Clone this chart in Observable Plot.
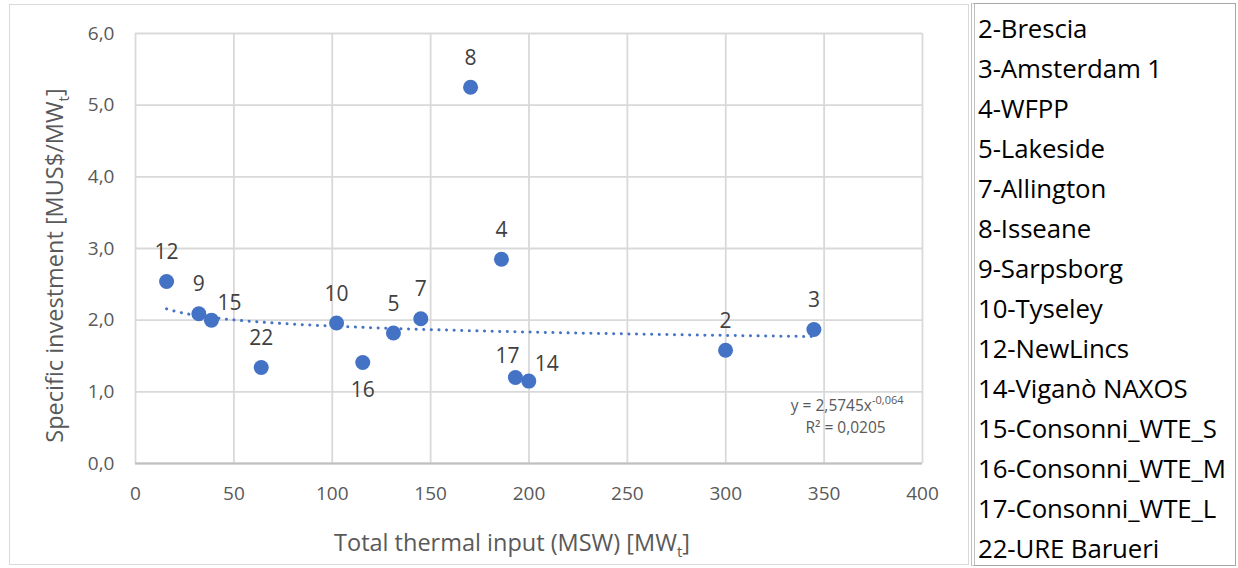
<!DOCTYPE html>
<html>
<head>
<meta charset="utf-8">
<script src="https://cdn.jsdelivr.net/npm/d3@7"></script>
<script src="https://cdn.jsdelivr.net/npm/@observablehq/plot@0.6"></script>
<style>
  html, body { margin: 0; padding: 0; background: #fff; }
  body { width: 1238px; height: 568px; overflow: hidden; position: relative; font-family: "Open Sans", sans-serif; }
  #frame { position: absolute; left: 9px; top: 4px; width: 960px; height: 561px; border: 1px solid #d9d9d9; box-sizing: border-box; }
  #chart { position: absolute; left: 0; top: 0; }
  #legend { position: absolute; left: 971px; top: 3px; width: 265px; height: 563px; border: 1px solid #a6a6a6; border-left: 4px double #bfbfbf; box-sizing: border-box; padding-top: 4px; padding-left: 3px; }
  .item { height: 40px; line-height: 40px; font-size: 25.8px; color: #000; white-space: nowrap; letter-spacing: -0.1px; }
</style>
</head>
<body>
<div id="frame"></div>
<div id="chart"></div>
<div id="legend"></div>
<script>
// ---- data ----
const ids = [2, 3, 4, 5, 7, 8, 9, 10, 12, 14, 15, 16, 17, 22];
const names = ["Brescia", "Amsterdam 1", "WFPP", "Lakeside", "Allington", "Isseane", "Sarpsborg", "Tyseley", "NewLincs", "Viganò NAXOS", "Consonni_WTE_S", "Consonni_WTE_M", "Consonni_WTE_L", "URE Barueri"];
const thermalInput = [299.9, 344.8, 186.0, 131.1, 145.0, 170.3, 32.2, 102.2, 15.8, 199.9, 38.6, 115.5, 193.1, 63.9];
const specificInvestment = [1.58, 1.87, 2.85, 1.82, 2.02, 5.25, 2.09, 1.96, 2.54, 1.15, 2.00, 1.41, 1.20, 1.34];
const labelPlacement = ["above", "above", "above", "above", "above", "above", "above", "above", "above", "right", "right", "below", "left", "above"];
const xTicks = [0, 50, 100, 150, 200, 250, 300, 350, 400];
const yTicks = [0, 1, 2, 3, 4, 5, 6];
const trendCoef = 2.5745;
const trendExp = -0.064;
const eqBase = "y = 2,5745x";
const eqSup = "-0,064";
const r2Text = "R² = 0,0205";
const xTitle = "Total thermal input (MSW) [MWt]";
const yTitle = "Specific investment [MUS$/MWt]";

// ---- build table ----
const data = ids.map((id, i) => ({
  id, name: names[i], x: thermalInput[i], y: specificInvestment[i], pos: labelPlacement[i]
}));
const xMin = d3.min(thermalInput), xMax = d3.max(thermalInput);
const trend = d3.range(xMin, xMax, 2).concat([xMax]).map(x => ({x, y: trendCoef * Math.pow(x, trendExp)}));

const blue = "#4472C4";
const grid = "#d9d9d9";
const offsets = {
  above: {dx: 0, dy: -29},
  below: {dx: 0, dy: 28},
  right: {dx: 18, dy: -17},
  left: {dx: -8, dy: -21}
};
const labelMarks = Object.entries(offsets).map(([k, o]) =>
  Plot.text(data.filter(d => d.pos === k), {
    x: "x", y: "y", text: d => String(d.id), dx: o.dx, dy: o.dy,
    fontSize: 21, fill: "#404040"
  })
);

const fmt = v => v.toFixed(1).replace(".", ",");

const chart = Plot.plot({
  width: 969,
  height: 568,
  marginLeft: 135,
  marginRight: 47,
  marginTop: 33,
  marginBottom: 105,
  style: { fontFamily: "'Open Sans', sans-serif", fontSize: "19px", color: "#595959", background: "transparent", overflow: "visible" },
  x: { domain: [0, 400] },
  y: { domain: [0, 6] },
  marks: [
    Plot.gridX(xTicks, { stroke: grid, strokeOpacity: 1, strokeWidth: 1.8 }),
    Plot.gridY(yTicks, { stroke: grid, strokeOpacity: 1, strokeWidth: 1.8 }),
    Plot.ruleY([0], { stroke: "#bfbfbf", strokeWidth: 2 }),
    Plot.axisX({ ticks: xTicks, tickSize: 0, tickPadding: 23, label: null, fill: "#595959", fontSize: 19 }),
    Plot.axisY({ ticks: yTicks, tickSize: 0, tickPadding: 21, label: null, tickFormat: fmt, fill: "#595959", fontSize: 19 }),
    Plot.line(trend, { x: "x", y: "y", stroke: blue, strokeWidth: 3, strokeDasharray: "0.1,7.5", strokeLinecap: "round" }),
    Plot.dot(data, { x: "x", y: "y", r: 7.5, fill: blue, stroke: "none" }),
    ...labelMarks,
    Plot.text([eqBase], { frameAnchor: "bottom-right", dx: -19, dy: -57, textAnchor: "end", lineAnchor: "middle", fontSize: 15.5, fill: "#595959" }),
    Plot.text([r2Text], { frameAnchor: "bottom-right", dx: -77, dy: -35, textAnchor: "middle", lineAnchor: "middle", fontSize: 15.5, fill: "#595959" }),
    Plot.text([xTitle], { frameAnchor: "bottom", dx: -17, dy: 80, textAnchor: "middle", lineAnchor: "middle", fontSize: 23.5, fill: "#595959" }),
    Plot.text([yTitle], { frameAnchor: "left", dx: -80, dy: 17, rotate: -90, textAnchor: "middle", lineAnchor: "middle", fontSize: 23.5, fill: "#595959" })
  ]
});

// rich text: subscripts / superscripts
d3.select(chart).selectAll("text").each(function () {
  const t = this.textContent;
  const sel = d3.select(this);
  if (t === xTitle || t === yTitle) {
    sel.text(t.slice(0, -2));
    sel.append("tspan").attr("font-size", 15).attr("dy", 6).text("t");
    sel.append("tspan").attr("dy", -6).text("]");
  } else if (t === eqBase) {
    sel.append("tspan").attr("font-size", 11).attr("dy", -7).text(eqSup);
  }
});

document.getElementById("chart").appendChild(chart);

// legend (right box)
const legend = d3.select("#legend");
data.forEach(d => legend.append("div").attr("class", "item").text(`${d.id}-${d.name}`));
</script>
</body>
</html>
